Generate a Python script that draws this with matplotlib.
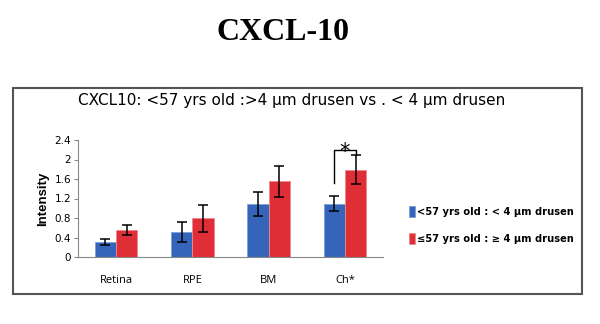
import numpy as np
import matplotlib
matplotlib.use("Agg")
import matplotlib.pyplot as plt
from matplotlib.patches import Rectangle

# values
tissues = ["Retina", "RPE", "BM", "Ch*"]
young_small = [0.31, 0.51, 1.09, 1.09]
young_small_err = [0.06, 0.21, 0.24, 0.155]
young_large = [0.56, 0.79, 1.55, 1.79]
young_large_err = [0.10, 0.27, 0.32, 0.30]
yticks = [0, 0.4, 0.8, 1.2, 1.6, 2, 2.4]
ytick_labels = ["0", "0.4", "0.8", "1.2", "1.6", "2", "2.4"]
labels = ["<57 yrs old : < 4 \u03bcm drusen", "\u226457 yrs old : \u2265 4 \u03bcm drusen"]

blue = "#3565BA"
red = "#E02E36"

plt.rcParams['font.family'] = ['DejaVu Sans']

fig = plt.figure(figsize=(6, 3.24), dpi=100)

# outer frame
fig.patches.append(Rectangle((13/600, 1-294/324), 569/600, 206/324, transform=fig.transFigure,
                             fill=False, edgecolor="#555555", linewidth=1.5))

fig.text(283/600, 1-33/324, "CXCL-10", ha="center", va="center",
         fontfamily="Liberation Serif", fontweight="bold", fontsize=23)
fig.text(78/600, 1-100/324, "CXCL10: <57 yrs old :>4 \u03bcm drusen vs . < 4 \u03bcm drusen",
         ha="left", va="center", fontsize=11)

ax = fig.add_axes([78/600, 1-257/324, 305/600, 117/324])
x = np.arange(len(tissues))
w = 0.28
ekw = dict(elinewidth=1.1, capthick=1.1, ecolor="black")
b1 = ax.bar(x - w/2, young_small, w, color=blue, edgecolor="#7f9fd8", linewidth=0.6,
            yerr=young_small_err, capsize=3.5, error_kw=ekw, label=labels[0])
b2 = ax.bar(x + w/2, young_large, w, color=red, edgecolor="#f08a8f", linewidth=0.6,
            yerr=young_large_err, capsize=3.5, error_kw=ekw, label=labels[1])

# significance bracket on Ch*
i = 3
top = 2.19
ax.plot([x[i] - w/2, x[i] - w/2, x[i] + w/2, x[i] + w/2],
        [1.51, top, top, young_large[i] + young_large_err[i]], color="black", lw=1.0, clip_on=False)
ax.text(x[i], top - 0.15, "*", ha="center", va="baseline", fontsize=15)

ax.set_xlim(-0.5, len(tissues) - 0.5)
ax.set_ylim(0, 2.4)
ax.set_yticks(yticks)
ax.set_yticklabels(ytick_labels, fontsize=7.5)
ax.set_xticks(x)
ax.set_xticklabels(tissues, fontsize=8, fontfamily="Open Sans")
ax.tick_params(axis="x", length=0, pad=13)
ax.tick_params(axis="y", length=3, color="#888888", pad=2)
for s in ["top", "right"]:
    ax.spines[s].set_visible(False)
ax.spines["left"].set_color("#888888")
ax.spines["bottom"].set_color("#888888")
ax.set_ylabel("Intensity", fontsize=9.5, fontweight="bold", fontfamily="Liberation Sans", labelpad=4)

fig.legend(handles=[b1, b2], loc="center left", bbox_to_anchor=(400/600, 1-225/324),
           frameon=False, handlelength=0.6, handleheight=1.3, handletextpad=0.2,
           labelspacing=1.6, prop=dict(weight="bold", size=7.1))

fig.savefig("out.png", dpi=100)
